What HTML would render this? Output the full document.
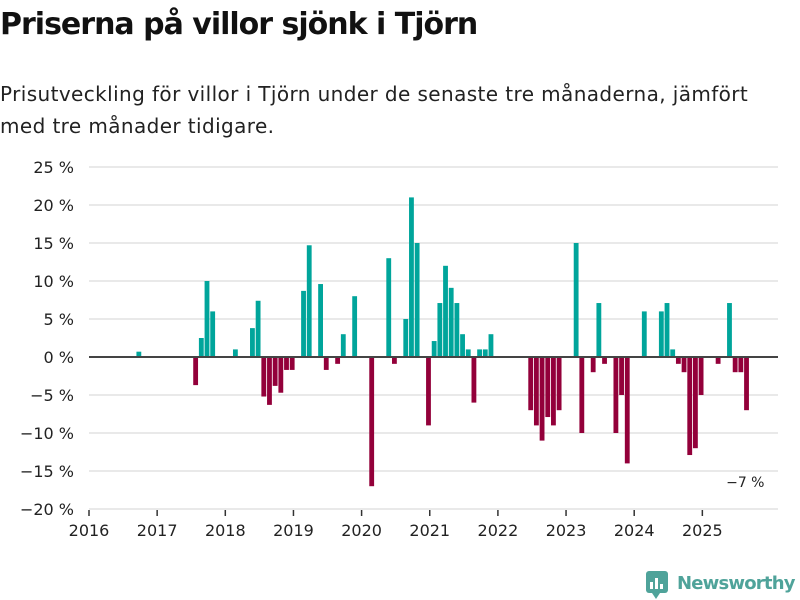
<!DOCTYPE html>
<html><head><meta charset="utf-8"><style>
body{margin:0;background:#fff;font-family:"Liberation Sans","DejaVu Sans",sans-serif;}
#wrap{position:relative;width:800px;height:600px;overflow:hidden;}
h1{position:absolute;left:0;top:7px;margin:0;font-size:30px;font-weight:bold;color:#111;font-family:"DejaVu Sans","Liberation Sans",sans-serif;letter-spacing:-1px}
p{position:absolute;left:0;top:78px;margin:0;font-size:20px;line-height:32px;color:#222;font-family:"DejaVu Sans","Liberation Sans",sans-serif;width:778px;letter-spacing:0.4px}
</style></head><body>
<div id="wrap">
<h1>Priserna på villor sjönk i Tjörn</h1>
<p>Prisutveckling för villor i Tjörn under de senaste tre månaderna, jämfört med tre månader tidigare.</p>
<svg id="chart" width="800" height="600" style="position:absolute;left:0;top:0"></svg>
</div>
<script>
const yTicks=[25,20,15,10,5,0,-5,-10,-15,-20];
const yTickLabels=["25 %","20 %","15 %","10 %","5 %","0 %","−5 %","−10 %","−15 %","−20 %"];
const xTickLabels=["2016","2017","2018","2019","2020","2021","2022","2023","2024","2025"];
const startYear=2016;
const values=[null,null,null,null,null,null,null,null,0.7,null,
null,null,null,null,null,null,null,null,-3.7,2.5,
10,6,null,null,null,1,null,null,3.8,7.4,
-5.2,-6.3,-3.8,-4.7,-1.7,-1.7,null,8.7,14.7,null,
9.6,-1.7,null,-0.9,3,null,8,null,null,-17,
null,null,13,-0.9,null,5,21,15,null,-9,
2.1,7.1,12,9.1,7.1,3,1,-6,1,1,
3,null,null,null,null,null,null,-7,-9,-11,
-7.9,-9,-7,null,null,15,-10,null,-2,7.1,
-0.9,null,-10,-5,-14,null,null,6,null,null,
6,7.1,1,-0.9,-2,-12.9,-12,-5,null,null,
-0.9,null,7.1,-2,-2,-7];
const lastLabel="−7 %";
const NS="http://www.w3.org/2000/svg";
const svg=document.getElementById('chart');
const x0=89,yearW=68.15,mW=yearW/12;
const yZero=357,pxPer=7.6;
function xs(i){return x0+i*mW;}
function ys(v){return yZero-v*pxPer;}
function mk(t,a){const e=document.createElementNS(NS,t);for(const k in a)e.setAttribute(k,a[k]);svg.appendChild(e);return e;}
yTicks.forEach((v,k)=>{
  if(v!==0){const g=mk('line',{x1:89,x2:778,y1:ys(v),y2:ys(v),stroke:'#e2e2e2','stroke-width':1.5});
  
  }
  const t=mk('text',{x:74,y:ys(v)+6,'text-anchor':'end','font-size':16,fill:'#222','font-family':'DejaVu Sans, Liberation Sans, sans-serif'});
  t.textContent=yTickLabels[k];
  
  
});
values.forEach((v,i)=>{
  if(v===null)return;
  const y=v>=0?ys(v):yZero, h=Math.abs(v)*pxPer;
  const r=mk('rect',{x:xs(i)+2,y:y,width:mW*0.85,height:h,fill:v>=0?'#00a59b':'#93003a'});
  
  
});
const z=mk('line',{x1:89,x2:778,y1:yZero,y2:yZero,stroke:'#444','stroke-width':2});


xTickLabels.forEach((l,k)=>{
  const xx=x0+k*yearW;
  const tk=mk('line',{x1:xx,x2:xx,y1:510,y2:516,stroke:'#333','stroke-width':1.5});
  
  
  const t=mk('text',{x:xx,y:536,'text-anchor':'middle','font-size':16,fill:'#222','font-family':'DejaVu Sans, Liberation Sans, sans-serif'});
  t.textContent=l;
  
  
});
const li=values.length-1;
const lt=mk('text',{x:xs(li)-16,y:ys(values[li])+77,'font-size':14,fill:'#222','font-family':'DejaVu Sans, Liberation Sans, sans-serif'});
lt.textContent=lastLabel;


const lg=mk('rect',{x:646,y:571,width:22,height:22,rx:3,fill:'#4fa39a'});


[[650,582,3,7],[655,578,3,11],[660,584,3,5]].forEach(b=>{mk('rect',{x:b[0],y:b[1],width:b[2],height:b[3],fill:'#fff'});});
mk('polygon',{points:'652,593 660,593 656,599',fill:'#4fa39a'});
const lgt=mk('text',{x:677,y:589,'font-size':18,'font-weight':'bold',fill:'#4fa39a','letter-spacing':'-0.8','font-family':'DejaVu Sans, Liberation Sans, sans-serif'});
lgt.textContent='Newsworthy';


</script>
</body></html>
